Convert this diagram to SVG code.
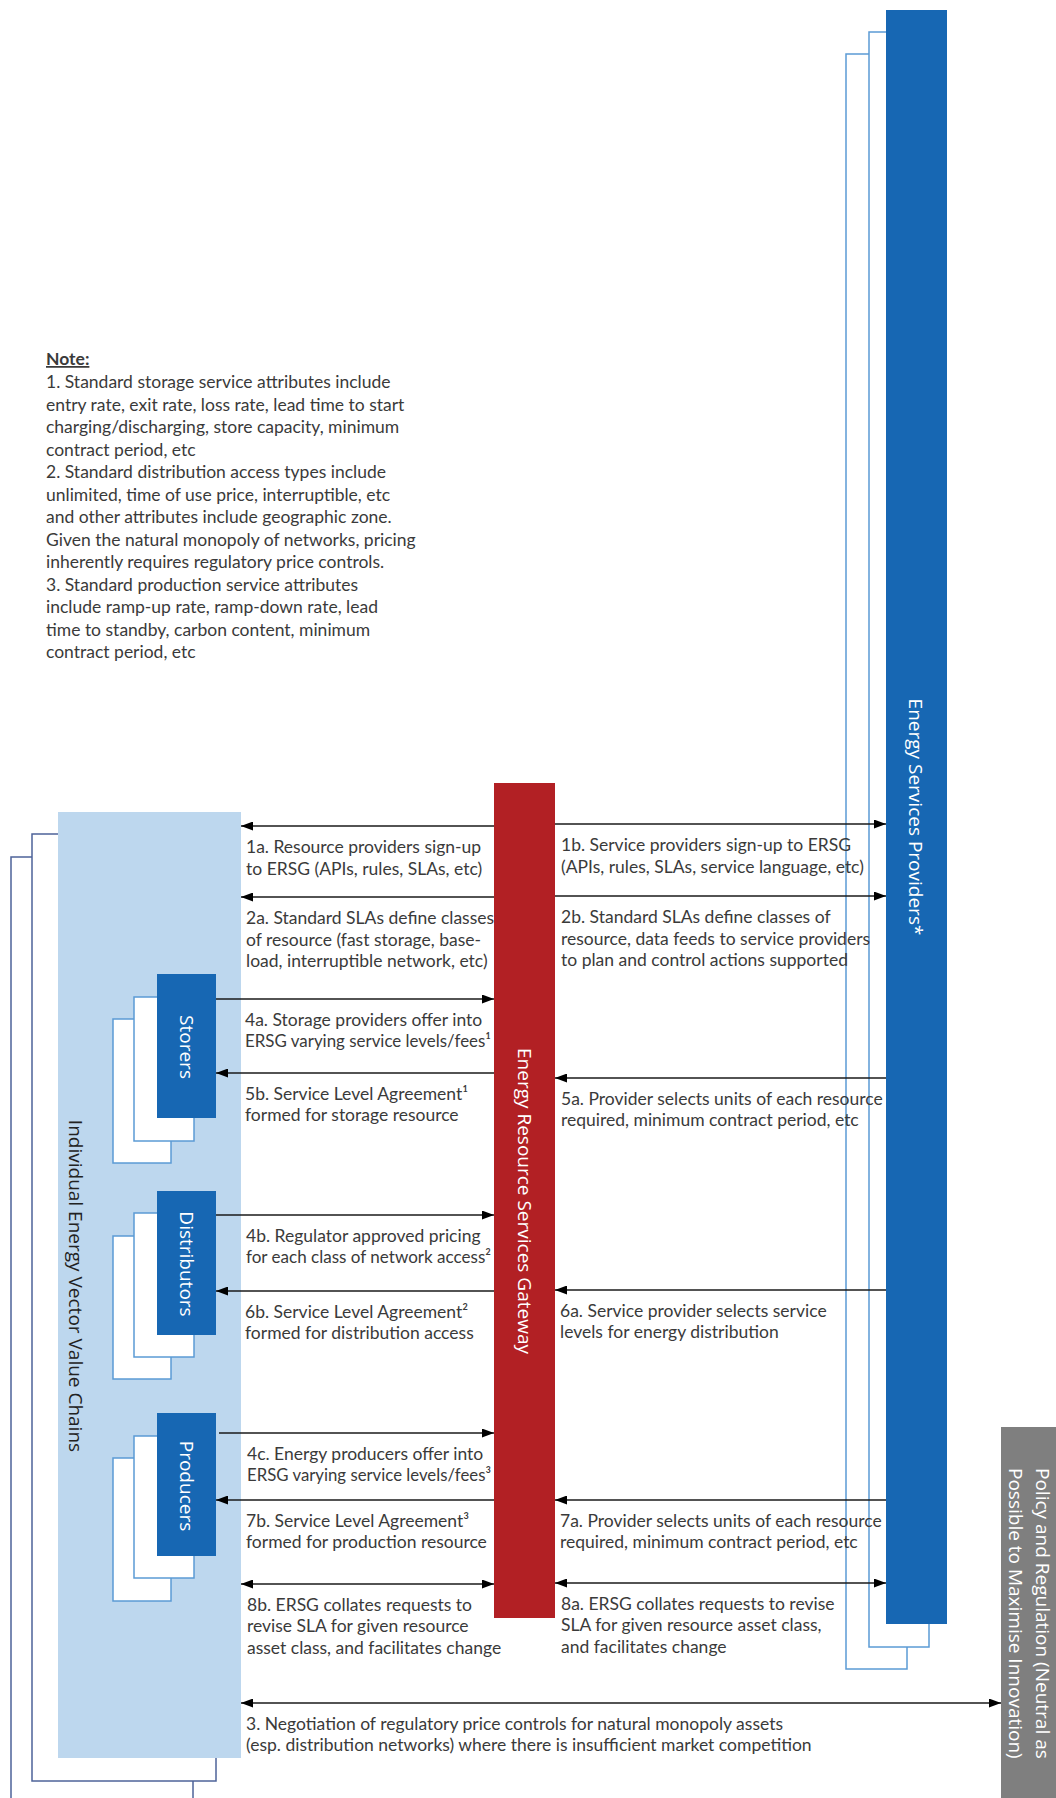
<svg xmlns="http://www.w3.org/2000/svg" width="1056" height="1798" viewBox="0 0 1056 1798">
<style>
.lbl{font-family:Lato,"Liberation Sans",sans-serif;font-size:17.5px;fill:#3a3a3a}
.note{font-family:Lato,"Liberation Sans",sans-serif;font-size:17.5px;fill:#3a3a3a}
.rot{font-family:"Open Sans","Liberation Sans",sans-serif;font-size:19px}
.wht{fill:#ffffff}
.shl{fill:#ffffff;stroke:#5b9bd5;stroke-width:1.5}
.shd{fill:#ffffff;stroke:#4e6399;stroke-width:1.5}
.blu{fill:#1767b3}
.ln{stroke:#1a1a1a;stroke-width:1.5;fill:none}
</style>
<defs>
<marker id="ah" viewBox="0 0 12 9" refX="12" refY="4.5" markerWidth="12" markerHeight="9" markerUnits="userSpaceOnUse" orient="auto-start-reverse"><path d="M0,0 L12,4.5 L0,9 z" fill="#000"/></marker>
</defs>
<rect width="1056" height="1798" fill="#ffffff"/>

<g id="notes">
<text class="note" x="46" y="365" font-weight="bold" text-decoration="underline">Note:</text>
<text class="note" x="46" y="388">1. Standard storage service attributes include</text>
<text class="note" x="46" y="410.5">entry rate, exit rate, loss rate, lead time to start</text>
<text class="note" x="46" y="433">charging/discharging, store capacity, minimum</text>
<text class="note" x="46" y="455.5">contract period, etc</text>
<text class="note" x="46" y="478">2. Standard distribution access types include</text>
<text class="note" x="46" y="500.5">unlimited, time of use price, interruptible, etc</text>
<text class="note" x="46" y="523">and other attributes include geographic zone.</text>
<text class="note" x="46" y="545.5">Given the natural monopoly of networks, pricing</text>
<text class="note" x="46" y="568">inherently requires regulatory price controls.</text>
<text class="note" x="46" y="590.5">3. Standard production service attributes</text>
<text class="note" x="46" y="613">include ramp-up rate, ramp-down rate, lead</text>
<text class="note" x="46" y="635.5">time to standby, carbon content, minimum</text>
<text class="note" x="46" y="658">contract period, etc</text>
</g>

<g id="value-chains">
<rect class="shd" x="11" y="857" width="182" height="1000"/>
<rect class="shd" x="32" y="834" width="184" height="947"/>
<rect x="58" y="812" width="183" height="946" fill="#bdd7ee"/>
<text class="rot" transform="translate(75,1286) rotate(90)" text-anchor="middle" y="6.5" fill="#222">Individual Energy Vector Value Chains</text>
</g>

<g id="storers">
<rect class="shl" x="113" y="1019" width="58" height="144"/>
<rect class="shl" x="134" y="997" width="60" height="144"/>
<rect class="blu" x="157" y="974" width="59" height="144"/>
<text class="rot wht" transform="translate(186,1047) rotate(90)" text-anchor="middle" y="6.3" font-size="18.5">Storers</text>
</g>

<g id="distributors">
<rect class="shl" x="113" y="1236" width="58" height="143"/>
<rect class="shl" x="134" y="1213" width="60" height="144"/>
<rect class="blu" x="157" y="1191" width="59" height="144"/>
<text class="rot wht" transform="translate(186,1264) rotate(90)" text-anchor="middle" y="6.3" font-size="18.5">Distributors</text>
</g>

<g id="producers">
<rect class="shl" x="113" y="1458" width="58" height="143"/>
<rect class="shl" x="134" y="1436" width="60" height="142"/>
<rect class="blu" x="157" y="1413" width="59" height="143"/>
<text class="rot wht" transform="translate(186,1486) rotate(90)" text-anchor="middle" y="6.3" font-size="18.5">Producers</text>
</g>

<g id="ersg">
<rect x="494" y="783" width="61" height="835" fill="#b22024"/>
<text class="rot wht" transform="translate(524,1201) rotate(90)" text-anchor="middle" y="6.5">Energy Resource Services Gateway</text>
</g>

<g id="service-providers">
<rect class="shl" x="846" y="54" width="61" height="1615"/>
<rect class="shl" x="869" y="32" width="60" height="1615"/>
<rect class="blu" x="886" y="10" width="61" height="1614"/>
<text class="rot wht" transform="translate(915,817) rotate(90)" text-anchor="middle" y="6.5">Energy Services Providers*</text>
</g>

<g id="policy">
<rect x="1001" y="1427" width="60" height="380" fill="#7f7f7f"/>
<text class="rot wht" font-size="17" transform="translate(1042,1468) rotate(90)" y="6">Policy and Regulation (Neutral as<tspan x="0" y="33">Possible to Maximise Innovation)</tspan></text>
</g>

<g id="connectors">
<line class="ln" x1="494" y1="826" x2="241" y2="826" marker-end="url(#ah)"/>
<text class="lbl" x="246" y="852.5">1a. Resource providers sign-up<tspan x="246" dy="22">to ERSG (APIs, rules, SLAs, etc)</tspan></text>

<line class="ln" x1="555" y1="824" x2="886" y2="824" marker-end="url(#ah)"/>
<text class="lbl" x="561" y="851">1b. Service providers sign-up to ERSG<tspan x="561" dy="22">(APIs, rules, SLAs, service language, etc)</tspan></text>

<line class="ln" x1="494" y1="897" x2="241" y2="897" marker-end="url(#ah)"/>
<text class="lbl" x="246" y="924">2a. Standard SLAs define classes<tspan x="246" dy="21.5">of resource (fast storage, base-</tspan><tspan x="246" dy="21.5">load, interruptible network, etc)</tspan></text>

<line class="ln" x1="555" y1="896" x2="886" y2="896" marker-end="url(#ah)"/>
<text class="lbl" x="561" y="923">2b. Standard SLAs define classes of<tspan x="561" dy="21.5">resource, data feeds to service providers</tspan><tspan x="561" dy="21.5">to plan and control actions supported</tspan></text>

<line class="ln" x1="216" y1="999" x2="494" y2="999" marker-end="url(#ah)"/>
<text class="lbl" x="245" y="1025.5">4a. Storage providers offer into</text>
<text class="lbl" x="245" y="1046.5" textLength="246" lengthAdjust="spacingAndGlyphs">ERSG varying service levels/fees¹</text>

<line class="ln" x1="494" y1="1073" x2="216" y2="1073" marker-end="url(#ah)"/>
<text class="lbl" x="245" y="1099.5">5b. Service Level Agreement¹<tspan x="245" dy="21">formed for storage resource</tspan></text>

<line class="ln" x1="886" y1="1078" x2="555" y2="1078" marker-end="url(#ah)"/>
<text class="lbl" x="561" y="1104.5">5a. Provider selects units of each resource<tspan x="561" dy="21">required, minimum contract period, etc</tspan></text>

<line class="ln" x1="216" y1="1215" x2="494" y2="1215" marker-end="url(#ah)"/>
<text class="lbl" x="246" y="1241.5">4b. Regulator approved pricing</text>
<text class="lbl" x="246" y="1262.5" textLength="245" lengthAdjust="spacingAndGlyphs">for each class of network access²</text>

<line class="ln" x1="494" y1="1291" x2="216" y2="1291" marker-end="url(#ah)"/>
<text class="lbl" x="245" y="1317.5">6b. Service Level Agreement²<tspan x="245" dy="21">formed for distribution access</tspan></text>

<line class="ln" x1="886" y1="1290" x2="555" y2="1290" marker-end="url(#ah)"/>
<text class="lbl" x="560" y="1316.5">6a. Service provider selects service<tspan x="560" dy="21">levels for energy distribution</tspan></text>

<line class="ln" x1="219" y1="1433" x2="494" y2="1433" marker-end="url(#ah)"/>
<text class="lbl" x="247" y="1459.5">4c. Energy producers offer into</text>
<text class="lbl" x="247" y="1480.5" textLength="244" lengthAdjust="spacingAndGlyphs">ERSG varying service levels/fees³</text>

<line class="ln" x1="494" y1="1500" x2="216" y2="1500" marker-end="url(#ah)"/>
<text class="lbl" x="246" y="1526.5">7b. Service Level Agreement³<tspan x="246" dy="21">formed for production resource</tspan></text>

<line class="ln" x1="886" y1="1500" x2="555" y2="1500" marker-end="url(#ah)"/>
<text class="lbl" x="560" y="1526.5">7a. Provider selects units of each resource<tspan x="560" dy="21">required, minimum contract period, etc</tspan></text>

<line class="ln" x1="241" y1="1584" x2="494" y2="1584" marker-start="url(#ah)" marker-end="url(#ah)"/>
<text class="lbl" x="247" y="1610.5">8b. ERSG collates requests to<tspan x="247" dy="21.5">revise SLA for given resource</tspan><tspan x="247" dy="21.5">asset class, and facilitates change</tspan></text>

<line class="ln" x1="555" y1="1583" x2="886" y2="1583" marker-start="url(#ah)" marker-end="url(#ah)"/>
<text class="lbl" x="561" y="1609.5">8a. ERSG collates requests to revise<tspan x="561" dy="21.5">SLA for given resource asset class,</tspan><tspan x="561" dy="21.5">and facilitates change</tspan></text>

<line class="ln" x1="241" y1="1703" x2="1001" y2="1703" marker-start="url(#ah)" marker-end="url(#ah)"/>
<text class="lbl" x="246" y="1730">3. Negotiation of regulatory price controls for natural monopoly assets<tspan x="246" dy="21">(esp. distribution networks) where there is insufficient market competition</tspan></text>
</g>
</svg>
